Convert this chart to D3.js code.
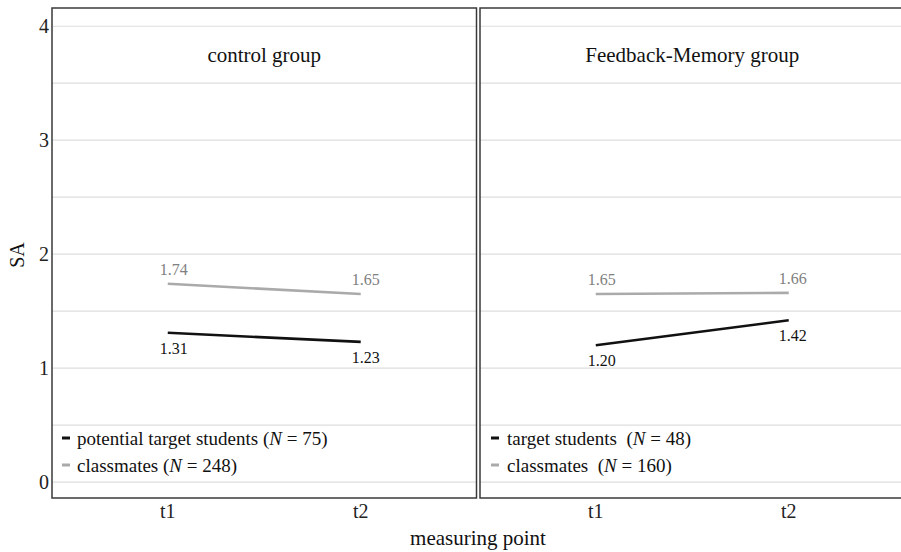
<!DOCTYPE html>
<html><head><meta charset="utf-8">
<script src="https://cdn.jsdelivr.net/npm/d3@7"></script>
<style>body{margin:0;background:#fff}svg{display:block}text{font-family:"Liberation Serif","Times New Roman",serif}</style>
</head><body><div id="c"></div>
<script>
const timePoints = ["t1", "t2"];
const panelTitles = ["control group", "Feedback-Memory group"];
const targetValues = [[1.31, 1.23], [1.20, 1.42]];
const classmateValues = [[1.74, 1.65], [1.65, 1.66]];
const targetLabels = [["1.31", "1.23"], ["1.20", "1.42"]];
const classmateLabels = [["1.74", "1.65"], ["1.65", "1.66"]];
const legendTarget = [["potential target students (", "N", " = 75)"], ["target students  (", "N", " = 48)"]];
const legendClass = [["classmates (", "N", " = 248)"], ["classmates  (", "N", " = 160)"]];
const yTicks = [0, 1, 2, 3, 4];
const yGrid = [0, 0.5, 1, 1.5, 2, 2.5, 3, 3.5, 4];

const W = 901, H = 552;
const svg = d3.select("#c").append("svg").attr("width", W).attr("height", H);
const plotTop = 8, plotBottom = 498, panelW = 424.5;
const panelX = [52, 480];
const y = d3.scaleLinear().domain([-0.14, 4.16]).range([plotBottom, plotTop]);

const labelDx = [[6, 5], [6, 4]];

panelX.forEach((px, p) => {
  const x = d3.scalePoint().domain(timePoints).range([px, px + panelW]).padding(0.6);
  const g = svg.append("g");
  g.selectAll("line.grid").data(yGrid).enter().append("line")
    .attr("x1", px).attr("x2", px + panelW)
    .attr("y1", d => y(d)).attr("y2", d => y(d))
    .attr("stroke", "#dedede").attr("stroke-width", 1.2);
  g.append("rect").attr("x", px).attr("y", plotTop).attr("width", panelW).attr("height", plotBottom - plotTop)
    .attr("fill", "none").attr("stroke", "#3a3a3a").attr("stroke-width", 1.5);
  g.append("text").attr("x", px + panelW / 2).attr("y", 62).attr("text-anchor", "middle")
    .attr("font-size", 21).attr("fill", "#111").text(panelTitles[p]);

  const line = d3.line().x((d, i) => x(timePoints[i])).y(d => y(d));
  g.append("path").attr("d", line(classmateValues[p])).attr("fill", "none")
    .attr("stroke", "#aaaaaa").attr("stroke-width", 2.6);
  g.append("path").attr("d", line(targetValues[p])).attr("fill", "none")
    .attr("stroke", "#111").attr("stroke-width", 2.6);

  classmateValues[p].forEach((v, i) => {
    g.append("text").attr("x", x(timePoints[i]) + labelDx[p][i]).attr("y", y(v) - 9)
      .attr("text-anchor", "middle").attr("font-size", 16).attr("fill", "#808080")
      .text(classmateLabels[p][i]);
  });
  targetValues[p].forEach((v, i) => {
    g.append("text").attr("x", x(timePoints[i]) + labelDx[p][i]).attr("y", y(v) + 21)
      .attr("text-anchor", "middle").attr("font-size", 16).attr("fill", "#111")
      .text(targetLabels[p][i]);
  });

  g.selectAll("text.xt").data(timePoints).enter().append("text")
    .attr("x", d => x(d)).attr("y", 518).attr("text-anchor", "middle")
    .attr("font-size", 20).attr("fill", "#222").text(d => d);

  const lx = p === 0 ? 62 : 491;
  const tx = p === 0 ? 77 : 507;
  [[legendTarget[p], "#111", 445], [legendClass[p], "#aaaaaa", 472]].forEach(([parts, col, by]) => {
    g.append("line").attr("x1", lx).attr("x2", lx + 8).attr("y1", by - 7).attr("y2", by - 7)
      .attr("stroke", col).attr("stroke-width", 3);
    const t = g.append("text").attr("x", tx).attr("y", by).attr("font-size", 19).attr("fill", "#111")
      .attr("xml:space", "preserve").style("white-space", "pre");
    t.append("tspan").text(parts[0]);
    t.append("tspan").attr("font-style", "italic").text(parts[1]);
    t.append("tspan").text(parts[2]);
  });
});

svg.selectAll("text.yt").data(yTicks).enter().append("text")
  .attr("x", 49).attr("y", d => y(d) + 7).attr("text-anchor", "end")
  .attr("font-size", 20).attr("fill", "#222").text(d => d);

svg.append("text").attr("transform", "translate(24,255) rotate(-90)").attr("text-anchor", "middle")
  .attr("font-size", 20).attr("fill", "#111").text("SA");
svg.append("text").attr("x", 478).attr("y", 545).attr("text-anchor", "middle")
  .attr("font-size", 21).attr("fill", "#111").text("measuring point");
</script></body></html>
